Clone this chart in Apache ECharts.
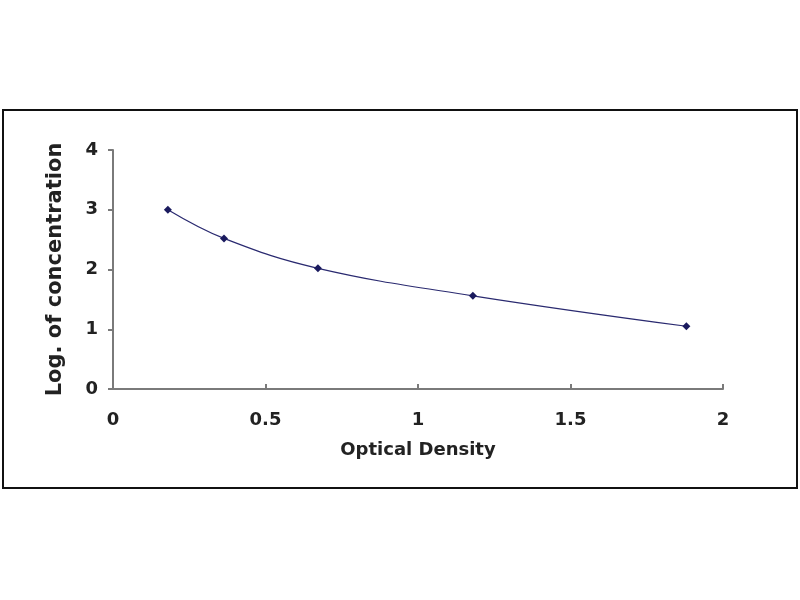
<!DOCTYPE html>
<html>
<head>
<meta charset="utf-8">
<script src="https://cdn.jsdelivr.net/npm/echarts@6/dist/echarts.min.js"></script>
<style>
  html, body { margin: 0; padding: 0; background: #fff; }
  #chart { width: 800px; height: 600px; }
</style>
</head>
<body>
<div id="chart"></div>
<script>
// standard curve points
var opticalDensity = [0.18, 0.364, 0.672, 1.18, 1.88];
var logConcentration = [3.0, 2.52, 2.02, 1.56, 1.05];
var xTicks = [0, 0.5, 1, 1.5, 2];
var yTicks = [0, 1, 2, 3, 4];

var points = opticalDensity.map(function (x, i) {
  return [x, logConcentration[i]];
});

var chart = echarts.init(document.getElementById('chart'));

var axisText = {
  color: '#222',
  fontFamily: 'DejaVu Sans, sans-serif',
  fontWeight: 'bold',
  fontSize: 18
};

var option = {
  backgroundColor: '#fff',
  animation: false,
  graphic: [{
    type: 'rect',
    shape: { x: 3, y: 110, width: 794, height: 378 },
    style: { fill: 'none', stroke: '#111', lineWidth: 2 }
  }],
  grid: { left: 113, right: 77, top: 150, bottom: 211 },
  xAxis: {
    type: 'value',
    min: xTicks[0],
    max: xTicks[xTicks.length - 1],
    interval: 0.5,
    name: 'Optical Density',
    nameLocation: 'middle',
    nameGap: 52,
    nameTextStyle: axisText,
    axisLine: { lineStyle: { color: '#7a7a7a', width: 2 } },
    axisTick: { inside: true, length: 5, lineStyle: { color: '#7a7a7a', width: 2 } },
    axisLabel: Object.assign({ margin: 22 }, axisText),
    splitLine: { show: false }
  },
  yAxis: {
    type: 'value',
    min: yTicks[0],
    max: yTicks[yTicks.length - 1],
    interval: 1,
    name: 'Log. of concentration',
    nameLocation: 'middle',
    nameGap: 47,
    nameTextStyle: Object.assign({}, axisText, { fontSize: 21 }),
    axisLine: { show: true, lineStyle: { color: '#7a7a7a', width: 2 } },
    axisTick: { show: true, length: 5, lineStyle: { color: '#7a7a7a', width: 2 } },
    axisLabel: Object.assign({ margin: 15 }, axisText),
    splitLine: { show: false }
  },
  series: [{
    type: 'line',
    data: points,
    smooth: 0.4,
    symbol: 'diamond',
    symbolSize: 8,
    itemStyle: { color: '#1a1a5e' },
    lineStyle: { color: '#2a2a70', width: 1.2 }
  }]
};

chart.setOption(option);
</script>
</body>
</html>
